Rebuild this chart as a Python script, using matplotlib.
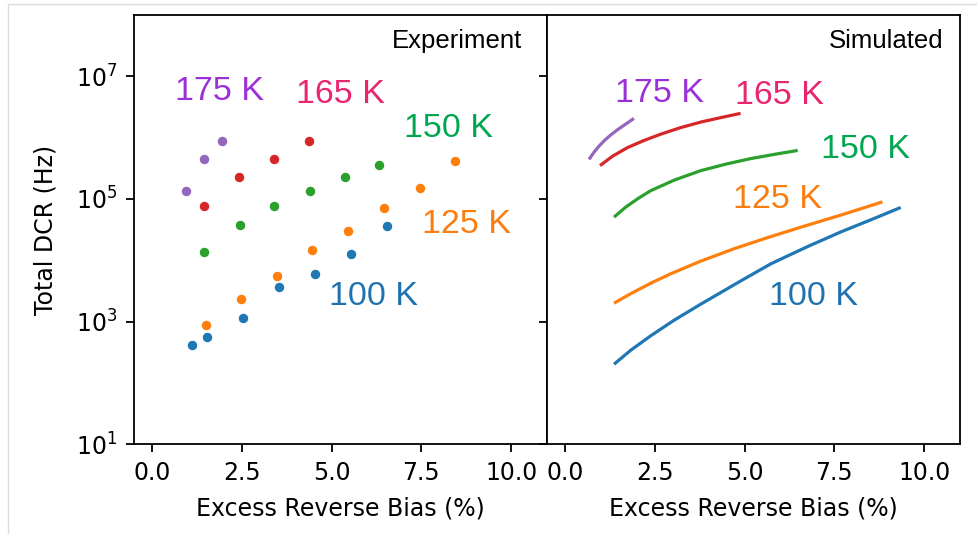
import matplotlib.pyplot as plt
from matplotlib.patches import Rectangle

# experiment: excess reverse bias (%) and total DCR (Hz)
exp_100_x = [1.12, 1.53, 2.53, 3.55, 4.53, 5.55, 6.54]
exp_100_y = [422, 555, 1160, 3670, 5850, 12800, 35800]
exp_125_x = [1.50, 2.49, 3.47, 4.46, 5.45, 6.47, 7.47, 8.45]
exp_125_y = [880, 2340, 5540, 14700, 29400, 71000, 148000, 410000]
exp_150_x = [1.46, 2.45, 3.40, 4.39, 5.38, 6.33]
exp_150_y = [13500, 37000, 77000, 135000, 230000, 350000]
exp_165_x = [1.46, 2.42, 3.40, 4.37]
exp_165_y = [77000, 230000, 440000, 890000]
exp_175_x = [0.95, 1.46, 1.94]
exp_175_y = [135000, 440000, 890000]

# simulated curves (log10 of DCR)
sim_100_x = [1.365, 1.83, 2.39, 3.04, 3.78, 4.89, 5.73, 6.75, 7.68, 8.61, 9.35]
sim_100_y = [2.304, 2.532, 2.769, 3.022, 3.283, 3.660, 3.940, 4.220, 4.460, 4.680, 4.859]
sim_125_x = [1.365, 1.83, 2.39, 2.95, 3.78, 4.71, 5.64, 6.57, 7.68, 8.84]
sim_125_y = [3.299, 3.454, 3.625, 3.780, 3.984, 4.187, 4.367, 4.538, 4.734, 4.950]
sim_150_x = [1.365, 1.69, 2.03, 2.39, 3.04, 3.78, 4.48, 5.17, 5.87, 6.48]
sim_150_y = [4.701, 4.864, 5.003, 5.133, 5.304, 5.459, 5.565, 5.655, 5.728, 5.788]
sim_165_x = [0.975, 1.33, 1.74, 2.19, 2.67, 3.22, 3.78, 4.34, 4.89]
sim_165_y = [5.541, 5.696, 5.834, 5.948, 6.054, 6.160, 6.250, 6.323, 6.392]
sim_175_x = [0.67, 0.80, 0.95, 1.11, 1.27, 1.47, 1.69, 1.92]
sim_175_y = [5.642, 5.753, 5.859, 5.956, 6.038, 6.128, 6.217, 6.310]

temps = ['100 K', '125 K', '150 K', '165 K', '175 K']
dot_colors = ['#1f77b4', '#ff7f0e', '#2ca02c', '#d62728', '#9467bd']
text_colors = ['#1f72b0', '#fb7d0f', '#00a650', '#e8256e', '#9b30d9']

# label positions (x, log10 y)
exp_label_x = [6.18, 8.77, 8.25, 5.24, 1.89]
exp_label_y = [3.277, 4.45, 6.01, 6.555, 6.61]
sim_label_x = [6.91, 5.93, 8.38, 5.96, 2.63]
sim_label_y = [3.266, 4.843, 5.668, 6.538, 6.58]

plt.rcParams['font.size'] = 17
plt.rcParams['axes.linewidth'] = 1.3

fig, (ax1, ax2) = plt.subplots(1, 2, sharey=True, figsize=(9.77, 5.34), dpi=100)
fig.subplots_adjust(left=0.1372, right=0.9826, bottom=0.168, top=0.9725, wspace=0)

exp_x = [exp_100_x, exp_125_x, exp_150_x, exp_165_x, exp_175_x]
exp_y = [exp_100_y, exp_125_y, exp_150_y, exp_165_y, exp_175_y]
sim_x = [sim_100_x, sim_125_x, sim_150_x, sim_165_x, sim_175_x]
sim_y = [sim_100_y, sim_125_y, sim_150_y, sim_165_y, sim_175_y]

for i in range(5):
    ax1.scatter(exp_x[i], exp_y[i], s=60, color=dot_colors[i], edgecolor='white', linewidth=0.9, zorder=3)
    ax2.plot(sim_x[i], [10 ** v for v in sim_y[i]], color=dot_colors[i], linewidth=2.3,
             solid_capstyle='butt', solid_joinstyle='round')
    ax1.text(exp_label_x[i], 10 ** exp_label_y[i], temps[i], color=text_colors[i], fontsize=24.5,
             family='Liberation Sans', ha='center', va='baseline')
    ax2.text(sim_label_x[i], 10 ** sim_label_y[i], temps[i], color=text_colors[i], fontsize=24.5,
             family='Liberation Sans', ha='center', va='baseline')

for ax in (ax1, ax2):
    ax.set_yscale('log')
    ax.set_ylim(10, 1e8)
    ax.set_xlim(-0.5, 11.0)
    ax.set_yticks([1e1, 1e3, 1e5, 1e7])
    ax.minorticks_off()
    ax.set_xticks([0, 2.5, 5, 7.5, 10])
    ax.set_xticklabels(['0.0', '2.5', '5.0', '7.5', '10.0'])
    ax.tick_params(length=6, width=1.3, pad=6)
    ax.set_xlabel('Excess Reverse Bias (%)', fontsize=17, labelpad=8)

ax2.tick_params(labelleft=False)
ax1.set_ylabel('Total DCR (Hz)', fontsize=17, labelpad=13)

ax1.text(0.939, 0.922, 'Experiment', transform=ax1.transAxes, ha='right', va='baseline',
         fontsize=18.5, family='Liberation Sans')
ax2.text(0.96, 0.922, 'Simulated', transform=ax2.transAxes, ha='right', va='baseline',
         fontsize=18.5, family='Liberation Sans')

# thin screenshot frame
fig.patches.append(Rectangle((8 / 977, -0.1), 1.2, 1.1 - 4 / 534, transform=fig.transFigure,
                             fill=False, edgecolor='#dcdcdc', linewidth=1.0))

plt.savefig('out.png', dpi=100)
plt.close()
